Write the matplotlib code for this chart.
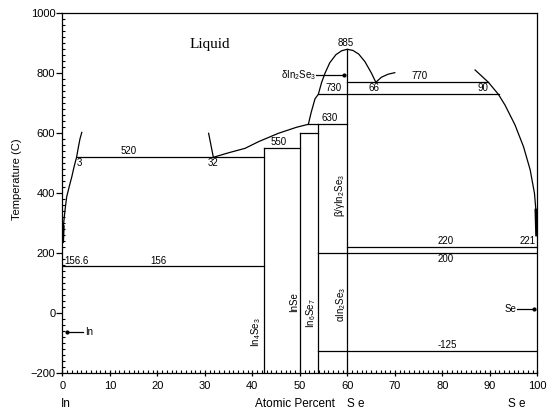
import matplotlib
matplotlib.use("Agg")
import matplotlib.pyplot as plt
from matplotlib.ticker import MultipleLocator

plt.rcParams['font.family'] = ['Liberation Sans', 'DejaVu Sans']
plt.rcParams['mathtext.fontset'] = 'custom'
plt.rcParams['mathtext.rm'] = 'Liberation Sans'
plt.rcParams['mathtext.it'] = 'Liberation Sans'

# 不变线 (水平线): 温度, 起点, 终点 (at.% Se)
inv_T = [520, 550, 600, 630, 730, 770, 156, 200, 220, -125]
inv_x0 = [3, 42.4, 50, 51.8, 53.9, 60, 0, 53.85, 60, 53.85]
inv_x1 = [42.4, 50, 53.85, 60, 92, 89.7, 42.4, 100, 100, 100]

# 化合物竖线
comp_x = [42.4, 50, 53.85, 60]
comp_top = [550, 600, 630, 880]

# 液相线
liq_in_x = [0.08, 0.21, 0.57, 0.93, 1.5, 2.0, 2.5, 3.0, 3.4, 3.7, 4.1]
liq_in_T = [239, 289, 344, 389, 425, 455, 490, 520, 555, 580, 603]

gap_x = [30.8, 31.3, 31.8]
gap_T = [600, 560, 520]

liq_mid_x = [31.8, 35, 38.5, 41.3, 45.5, 49.3, 51.8]
liq_mid_T = [520, 535, 550, 572, 600, 620, 630]

dome_x = [51.8, 52.4, 53.2, 53.9, 54.6, 55.3, 56.3, 57.6, 58.8, 60, 61.2, 62.4, 63.7, 65.1, 66]
dome_T = [630, 670, 715, 730, 770, 800, 835, 862, 875, 880, 876, 864, 839, 800, 770]

gap2_x = [66, 67.2, 68.6, 70]
gap2_T = [770, 787, 797, 802]

liq_se_x = [86.9, 89.7, 91.8, 93.2, 95.3, 97.1, 98.5, 99.4, 99.7, 99.85]
liq_se_T = [811, 770, 730, 694, 628, 555, 478, 400, 344, 261]

fig = plt.figure(figsize=(5.48, 4.15), dpi=100)
ax = fig.add_axes([0.1137, 0.1005, 0.8668, 0.8675])

lw = 0.9
for T, x0, x1 in zip(inv_T, inv_x0, inv_x1):
    ax.plot([x0, x1], [T, T], color='black', lw=lw)
for x, top in zip(comp_x, comp_top):
    ax.plot([x, x], [-200, top], color='black', lw=lw)

for xs, ts in [(liq_in_x, liq_in_T), (gap_x, gap_T), (liq_mid_x, liq_mid_T),
               (dome_x, dome_T), (gap2_x, gap2_T), (liq_se_x, liq_se_T)]:
    ax.plot(xs, ts, color='black', lw=lw)
# 端点附近的粗线
ax.plot(liq_in_x[:2], liq_in_T[:2], color='black', lw=2)
ax.plot(liq_se_x[-2:], liq_se_T[-2:], color='black', lw=2)

# 标记
ax.plot([53.5, 59.2], [794, 794], color='black', lw=lw)
ax.plot([59.2], [794], 'ko', ms=2)
ax.plot([0.9, 4.4], [-63, -63], color='black', lw=lw)
ax.plot([0.9], [-63], 'ko', ms=2)
ax.plot([95.7, 99.2], [14, 14], color='black', lw=lw)
ax.plot([99.2], [14], 'ko', ms=2)

fs = 7
ax.text(31, 895, 'Liquid', family='Liberation Serif', fontsize=11, ha='center', va='center')
ax.text(14, 524, '520', fontsize=fs, ha='center', va='bottom')
ax.text(3.1, 516, '3', fontsize=fs, ha='left', va='top')
ax.text(31.8, 516, '32', fontsize=fs, ha='center', va='top')
ax.text(45.6, 553, '550', fontsize=fs, ha='center', va='bottom')
ax.text(56.2, 633, '630', fontsize=fs, ha='center', va='bottom')
ax.text(59.6, 885, '885', fontsize=fs, ha='center', va='bottom')
ax.text(57, 733, '730', fontsize=fs, ha='center', va='bottom')
ax.text(65.7, 766, '66', fontsize=fs, ha='center', va='top')
ax.text(75.2, 773, '770', fontsize=fs, ha='center', va='bottom')
ax.text(88.5, 766, '90', fontsize=fs, ha='center', va='top')
ax.text(80.6, 223, '220', fontsize=fs, ha='center', va='bottom')
ax.text(99.6, 223, '221', fontsize=fs, ha='right', va='bottom')
ax.text(80.6, 196, '200', fontsize=fs, ha='center', va='top')
ax.text(81, -122, '-125', fontsize=fs, ha='center', va='bottom')
ax.text(20.2, 159, '156', fontsize=fs, ha='center', va='bottom')
ax.text(0.5, 159, '156.6', fontsize=fs, ha='left', va='bottom')
ax.text(53.4, 794, r'δIn$_2$Se$_3$', fontsize=fs, ha='right', va='center')
ax.text(4.7, -63, 'In', fontsize=fs, ha='left', va='center')
ax.text(95.5, 14, 'Se', fontsize=fs, ha='right', va='center')

ax.text(40.8, -61, r'In$_4$Se$_3$', fontsize=fs, rotation=90, ha='center', va='center')
ax.text(48.8, 39, 'InSe', fontsize=fs, rotation=90, ha='center', va='center')
ax.text(52.3, 0, r'In$_6$Se$_7$', fontsize=fs, rotation=90, ha='center', va='center')
ax.text(58.6, 31, r'αIn$_2$Se$_3$', fontsize=fs, rotation=90, ha='center', va='center')
ax.text(58.4, 392, r'β/γIn$_2$Se$_3$', fontsize=fs, rotation=90, ha='center', va='center')

ax.set_xlim(0, 100)
ax.set_ylim(-200, 1000)
ax.xaxis.set_major_locator(MultipleLocator(10))
ax.xaxis.set_minor_locator(MultipleLocator(1))
ax.yaxis.set_major_locator(MultipleLocator(200))
ax.yaxis.set_minor_locator(MultipleLocator(20))
ax.tick_params(axis='y', which='major', direction='out', length=4, width=0.9, labelsize=8, pad=1)
ax.tick_params(axis='y', which='minor', direction='in', length=2.5, width=0.8)
ax.tick_params(axis='x', which='major', direction='inout', length=5, width=0.9, labelsize=8, pad=3)
ax.tick_params(axis='x', which='minor', direction='in', length=2.5, width=0.8)
for s in ax.spines.values():
    s.set_linewidth(0.9)

ax.set_ylabel('Temperature (C)', fontsize=8)
ax.yaxis.set_label_coords(-0.085, 0.54)
fig.text(0.111, 0.027, 'In', fontsize=8.5, ha='left', va='center')
fig.text(0.465, 0.027, 'Atomic Percent', fontsize=8.5, ha='left', va='center')
fig.text(0.633, 0.027, 'S e', fontsize=8.5, ha='left', va='center')
fig.text(0.927, 0.027, 'S e', fontsize=8.5, ha='left', va='center')

plt.savefig('out.png', dpi=100)
